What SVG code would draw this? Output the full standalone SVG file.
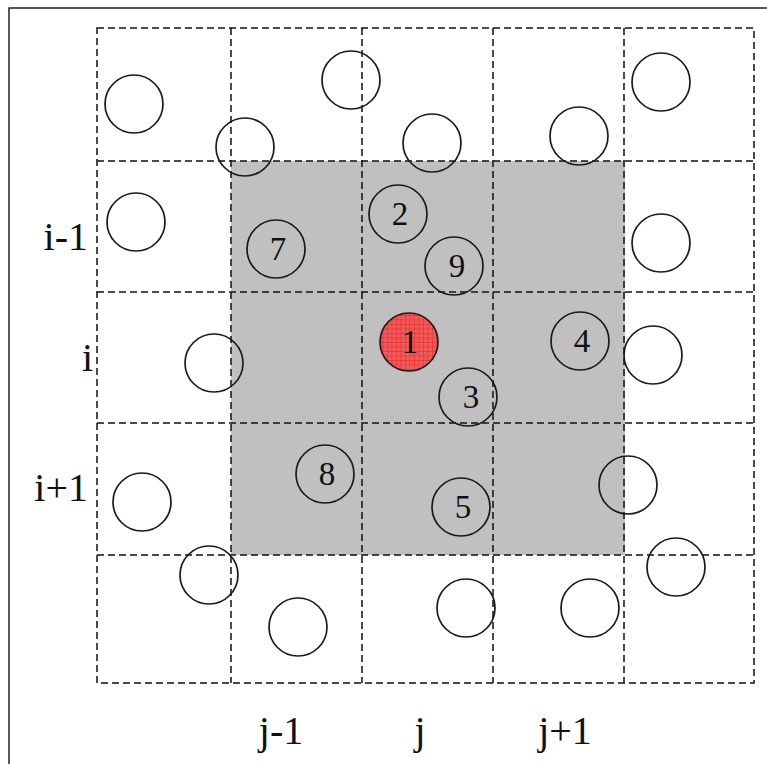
<svg xmlns="http://www.w3.org/2000/svg" width="767" height="764" viewBox="0 0 767 764">
<defs>
<style>
.g{stroke:#111;stroke-width:1.5;stroke-dasharray:7 4;fill:none}
.c{fill:none;stroke:#1a1a1a;stroke-width:1.7}
.t{font-family:"Liberation Serif",serif;font-size:33px;fill:#111;text-anchor:middle}
.lab{font-family:"Liberation Serif",serif;font-size:40px;fill:#111}
</style>
<pattern id="hatch" width="4.5" height="4.5" patternUnits="userSpaceOnUse">
<rect width="4.5" height="4.5" fill="#f05a5a"/>
<path d="M0 0H4.5M0 0V4.5" stroke="#e01818" stroke-width="0.8"/>
</pattern>
</defs>
<rect width="767" height="764" fill="#fff"/>
<path d="M9 764V8H767" fill="none" stroke="#222" stroke-width="1.5"/>
<rect x="231" y="161" width="394" height="394" fill="#c0c0c0"/>
<g id="grid">
<rect class="g" x="97" y="28" width="657" height="655"/>
<path class="g" d="M231 28V683M362 28V683M493 28V683M624 28V683M97 161H754M97 292H754M97 423H754M97 555H754"/>
</g>
<g id="particles">
<circle class="c" cx="134" cy="104" r="29"/>
<circle class="c" cx="245" cy="147" r="29"/>
<circle class="c" cx="351" cy="80" r="29"/>
<circle class="c" cx="432" cy="143" r="29"/>
<circle class="c" cx="579" cy="136" r="29"/>
<circle class="c" cx="661" cy="82" r="29"/>
<circle class="c" cx="136" cy="222" r="29"/>
<circle class="c" cx="661" cy="243" r="29"/>
<circle class="c" cx="214" cy="363" r="29"/>
<circle class="c" cx="653" cy="355" r="29"/>
<circle class="c" cx="142" cy="502" r="29"/>
<circle class="c" cx="628" cy="485" r="29"/>
<circle class="c" cx="209" cy="575" r="29"/>
<circle class="c" cx="298" cy="627" r="29"/>
<circle class="c" cx="466" cy="608" r="29"/>
<circle class="c" cx="590" cy="608" r="29"/>
<circle class="c" cx="676" cy="567" r="29"/>
</g>
<g id="n1"><circle cx="409" cy="342" r="29" fill="url(#hatch)" stroke="#1a1a1a" stroke-width="1.7"/><text class="t" x="410" y="353">1</text></g>
<g id="n2"><circle class="c" cx="398" cy="214" r="29"/><text class="t" x="400" y="225">2</text></g>
<g id="n3"><circle class="c" cx="468" cy="397" r="29"/><text class="t" x="471" y="408">3</text></g>
<g id="n4"><circle class="c" cx="580" cy="341" r="29"/><text class="t" x="582" y="352">4</text></g>
<g id="n5"><circle class="c" cx="461" cy="507" r="29"/><text class="t" x="463" y="518">5</text></g>
<g id="n7"><circle class="c" cx="276" cy="249" r="29"/><text class="t" x="278" y="260">7</text></g>
<g id="n8"><circle class="c" cx="325" cy="474" r="29"/><text class="t" x="327" y="485">8</text></g>
<g id="n9"><circle class="c" cx="454" cy="266" r="29"/><text class="t" x="457" y="277">9</text></g>
<g id="labels">
<text class="lab" x="88" y="250" text-anchor="end">i-1</text>
<text class="lab" x="93" y="371" text-anchor="end">i</text>
<text class="lab" x="88" y="501" text-anchor="end">i+1</text>
<text class="lab" x="281" y="744" text-anchor="middle">j-1</text>
<text class="lab" x="420" y="744" text-anchor="middle">j</text>
<text class="lab" x="565" y="744" text-anchor="middle">j+1</text>
</g>
</svg>
